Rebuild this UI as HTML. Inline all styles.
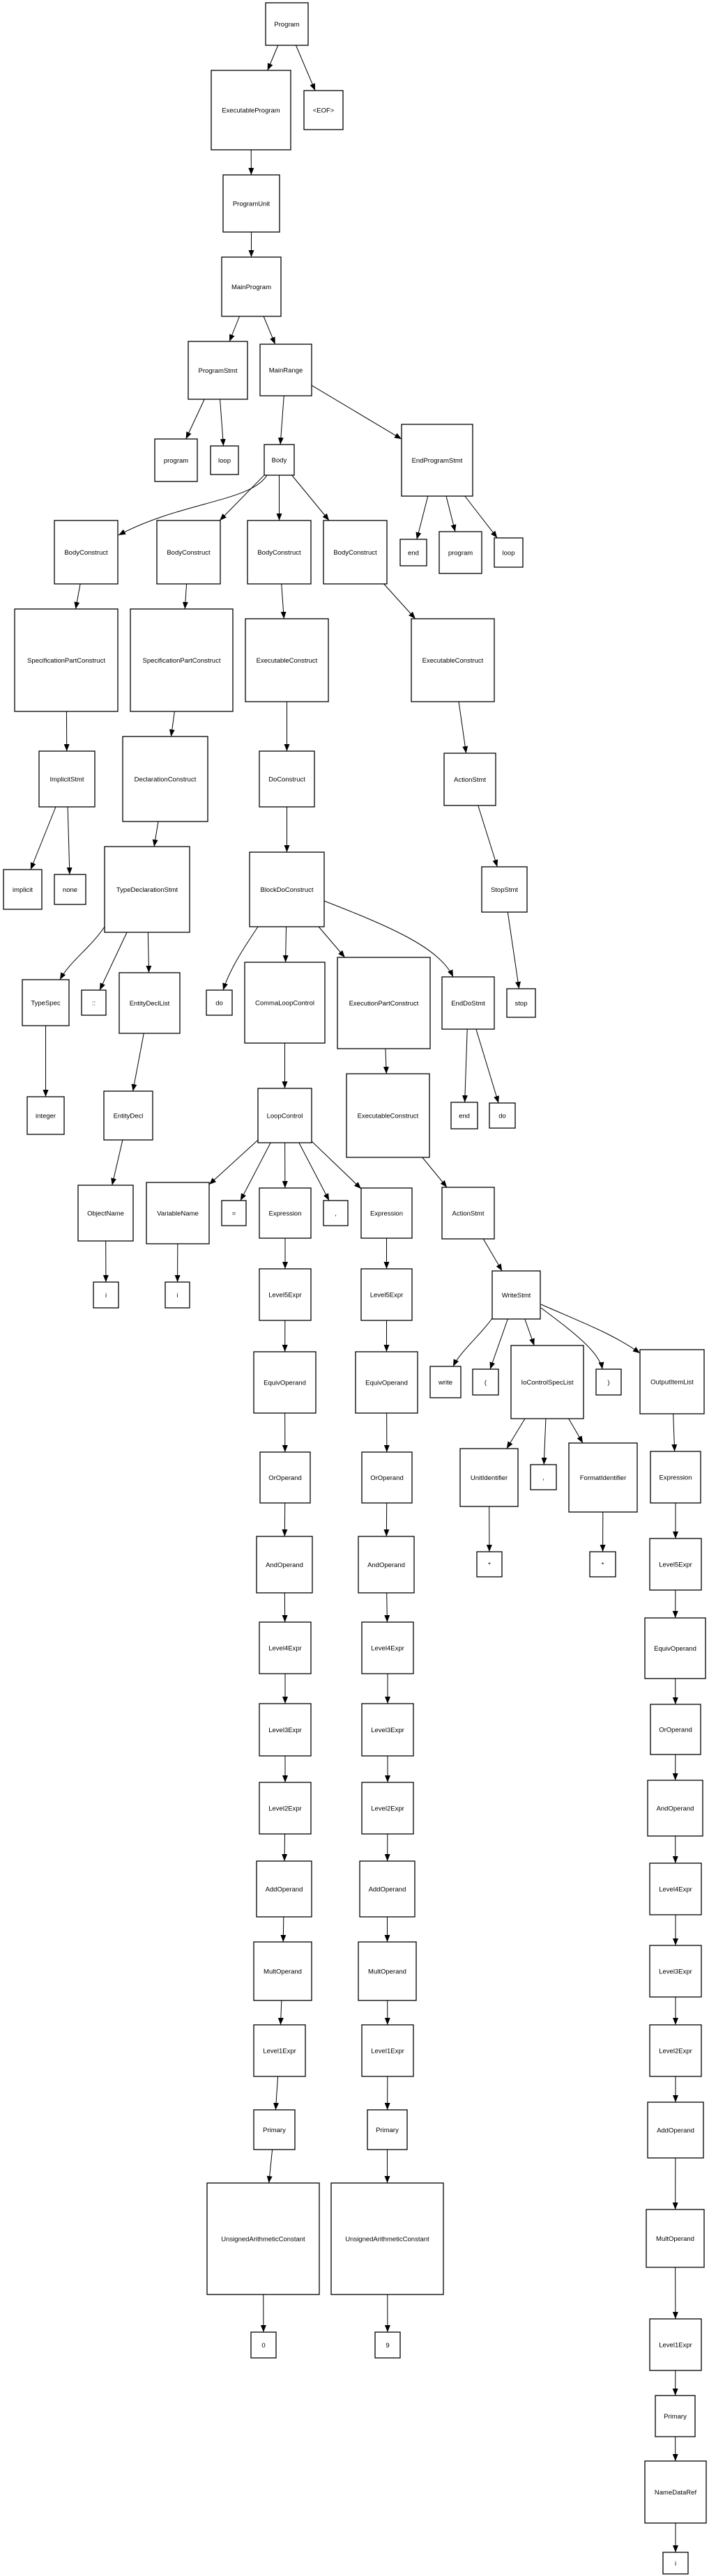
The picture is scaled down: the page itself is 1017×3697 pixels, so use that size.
<!DOCTYPE html>
<html><head><meta charset="utf-8"><style>
html,body{margin:0;padding:0;background:#fff;}
svg{display:block;}
text{font-family:"Liberation Sans",Arial,sans-serif;font-size:9.5px;fill:#000;}
</style></head><body>
<svg id="s" width="1017" height="3697" viewBox="0 0 1017 3697" xmlns="http://www.w3.org/2000/svg">
<defs><marker id="a" markerWidth="10" markerHeight="8" refX="10" refY="4" orient="auto" markerUnits="userSpaceOnUse"><path d="M0,0 L10,4 L0,8 z" fill="#000"/></marker></defs>
<g id="e" stroke="#000" stroke-width="1" fill="none">
<path d="M383,682 C360,720 260,720 170,768" marker-end="url(#a)"/>
<path d="M150,1330 C130,1360 100,1380 86,1406" marker-end="url(#a)"/>
<path d="M370,1330 C350,1360 330,1390 320,1421" marker-end="url(#a)"/>
<path d="M465,1293 C560,1330 630,1360 650,1402" marker-end="url(#a)"/>
<path d="M706,1892 C690,1915 660,1940 650,1961" marker-end="url(#a)"/>
<path d="M776,1877 C820,1910 860,1940 864,1965" marker-end="url(#a)"/>
<path d="M776,1872 C840,1900 880,1915 918,1942" marker-end="url(#a)"/>
</g>
<g id="n"></g>
</svg>
<script>
var N={
prog:["Program",381,4,442,65],
exe:["ExecutableProgram",303,101,417,215],
eof:["<EOF>",436,130,492,186],
pu:["ProgramUnit",320,251,401,333],
mp:["MainProgram",318,369,403,454],
ps:["ProgramStmt",270,490,355,573],
mr:["MainRange",373,494,447,568],
kprog:["program",222,630,283,691],
kloop:["loop",302,640,342,681],
body:["Body",379,638,422,682],
eps:["EndProgramStmt",576,609,678,712],
bc1:["BodyConstruct",78,747,169,838],
bc2:["BodyConstruct",225,747,316,838],
bc3:["BodyConstruct",355,747,446,838],
bc4:["BodyConstruct",464,747,555,838],
kend:["end",574,774,612,812],
kprog2:["program",630,763,691,823],
kloop2:["loop",709,772,750,814],
sp1:["SpecificationPartConstruct",21,874,169,1021],
sp2:["SpecificationPartConstruct",187,874,334,1021],
ec1:["ExecutableConstruct",352,888,471,1007],
ec2:["ExecutableConstruct",590,888,709,1007],
imp:["ImplicitStmt",56,1078,136,1158],
dc:["DeclarationConstruct",176,1057,298,1179],
doc:["DoConstruct",372,1078,451,1158],
as1:["ActionStmt",637,1081,711,1156],
kimp:["implicit",5,1248,60,1305],
knone:["none",78,1255,123,1298],
tds:["TypeDeclarationStmt",150,1215,272,1338],
bdc:["BlockDoConstruct",358,1223,465,1330],
ss:["StopStmt",691,1244,756,1309],
ts:["TypeSpec",32,1406,99,1472],
kcc:["::",117,1421,152,1457],
edl:["EntityDeclList",171,1396,258,1483],
kdo:["do",296,1421,333,1457],
clc:["CommaLoopControl",351,1381,466,1497],
epc:["ExecutionPartConstruct",484,1374,617,1505],
eds:["EndDoStmt",634,1402,709,1477],
kstop:["stop",727,1419,768,1460],
kint:["integer",39,1574,92,1628],
ed:["EntityDecl",149,1566,219,1636],
lc:["LoopControl",370,1562,447,1640],
ec3:["ExecutableConstruct",497,1541,616,1661],
kend2:["end",647,1582,685,1620],
kdo2:["do",702,1583,739,1619],
on:["ObjectName",112,1701,191,1781],
vn:["VariableName",210,1697,300,1785],
keq:["=",318,1723,353,1759],
x1:["Expression",372,1705,446,1777],
kcm:[",",464,1723,499,1759],
x2:["Expression",518,1705,591,1777],
as2:["ActionStmt",634,1704,709,1778],
i1:["i",134,1840,170,1877],
i2:["i",237,1840,272,1877],
l5a:["Level5Expr",372,1821,446,1895],
l5b:["Level5Expr",518,1821,591,1895],
ws:["WriteStmt",706,1824,775,1893],
eqa:["EquivOperand",364,1940,453,2028],
eqb:["EquivOperand",510,1940,599,2028],
kw:["write",617,1961,661,2006],
klp:["(",678,1965,715,2002],
io:["IoControlSpecList",733,1931,837,2036],
krp:[")",855,1965,891,2002],
oil:["OutputItemList",918,1937,1010,2029],
ora:["OrOperand",373,2084,445,2157],
orb:["OrOperand",519,2084,591,2157],
ui:["UnitIdentifier",660,2079,743,2162],
kcm2:[",",761,2102,798,2138],
fi:["FormatIdentifier",816,2071,914,2170],
x3:["Expression",933,2083,1005,2157],
ana:["AndOperand",368,2205,448,2286],
anb:["AndOperand",514,2205,594,2286],
st1:["*",684,2227,720,2263],
st2:["*",846,2227,883,2263],
l5c:["Level5Expr",932,2208,1006,2282],
l4a:["Level4Expr",372,2328,446,2402],
l4b:["Level4Expr",519,2328,593,2402],
eqc:["EquivOperand",925,2322,1012,2409],
l3a:["Level3Expr",372,2445,446,2520],
l3b:["Level3Expr",519,2445,593,2520],
orc:["OrOperand",933,2446,1005,2518],
l2a:["Level2Expr",372,2558,446,2632],
l2b:["Level2Expr",519,2558,593,2632],
anc:["AndOperand",929,2555,1008,2635],
ada:["AddOperand",368,2671,447,2751],
adb:["AddOperand",516,2671,595,2751],
l4c:["Level4Expr",932,2674,1006,2748],
mua:["MultOperand",364,2787,447,2871],
mub:["MultOperand",514,2787,597,2871],
l3c:["Level3Expr",932,2792,1006,2866],
l1a:["Level1Expr",364,2906,438,2980],
l1b:["Level1Expr",519,2906,593,2980],
l2c:["Level2Expr",932,2906,1006,2980],
pra:["Primary",364,3028,423,3085],
prb:["Primary",527,3028,584,3085],
adc:["AddOperand",929,3017,1009,3097],
uaa:["UnsignedArithmeticConstant",297,3133,458,3293],
uab:["UnsignedArithmeticConstant",475,3133,636,3293],
muc:["MultOperand",927,3171,1010,3254],
k0:["0",360,3347,396,3384],
k9:["9",538,3347,574,3384],
l1c:["Level1Expr",932,3328,1006,3402],
prc:["Primary",940,3438,997,3497],
ndr:["NameDataRef",925,3532,1013,3621],
i3:["i",951,3663,987,3694]
};
var E="prog-exe prog-eof exe-pu pu-mp mp-ps mp-mr ps-kprog ps-kloop mr-body mr-eps body-bc2 body-bc3 body-bc4 eps-kend eps-kprog2 eps-kloop2 bc1-sp1 bc2-sp2 bc3-ec1 bc4-ec2 sp1-imp sp2-dc ec1-doc ec2-as1 imp-kimp imp-knone dc-tds doc-bdc as1-ss tds-kcc tds-edl bdc-clc bdc-epc ss-kstop ts-kint edl-ed clc-lc epc-ec3 eds-kend2 eds-kdo2 ed-on lc-vn lc-keq lc-x1 lc-kcm lc-x2 ec3-as2 on-i1 vn-i2 x1-l5a x2-l5b as2-ws l5a-eqa l5b-eqb ws-klp ws-io eqa-ora eqb-orb io-ui io-kcm2 io-fi oil-x3 ora-ana orb-anb ui-st1 fi-st2 x3-l5c ana-l4a anb-l4b l5c-eqc l4a-l3a l4b-l3b eqc-orc l3a-l2a l3b-l2b orc-anc l2a-ada l2b-adb anc-l4c ada-mua adb-mub l4c-l3c mua-l1a mub-l1b l3c-l2c l1a-pra l1b-prb l2c-adc pra-uaa prb-uab adc-muc uaa-k0 uab-k9 muc-l1c l1c-prc prc-ndr ndr-i3".split(" ");
var NS="http://www.w3.org/2000/svg";
var eg=document.getElementById("e"),ng=document.getElementById("n");
function clip(r,cx,cy,dx,dy){
 var t=1e9,hw=(r[3]-r[1])/2,hh=(r[4]-r[2])/2;
 if(dx)t=Math.min(t,hw/Math.abs(dx)); if(dy)t=Math.min(t,hh/Math.abs(dy));
 return [cx+dx*t,cy+dy*t];
}
E.forEach(function(s){
 var p=s.split("-"),a=N[p[0]],b=N[p[1]];
 var ax=(a[1]+a[3])/2,ay=(a[2]+a[4])/2,bx=(b[1]+b[3])/2,by=(b[2]+b[4])/2;
 var dx=bx-ax,dy=by-ay;
 var s1=clip(a,ax,ay,dx,dy),s2=clip(b,bx,by,-dx,-dy);
 var l=document.createElementNS(NS,"line");
 l.setAttribute("x1",s1[0]);l.setAttribute("y1",s1[1]);l.setAttribute("x2",s2[0]);l.setAttribute("y2",s2[1]);
 l.setAttribute("marker-end","url(#a)");eg.appendChild(l);
});
for(var k in N){var n=N[k];
 var r=document.createElementNS(NS,"rect");
 r.setAttribute("x",n[1]);r.setAttribute("y",n[2]);r.setAttribute("width",n[3]-n[1]);r.setAttribute("height",n[4]-n[2]);
 r.setAttribute("fill","#fff");r.setAttribute("stroke","#000");r.setAttribute("stroke-width","1.3");ng.appendChild(r);
 var t=document.createElementNS(NS,"text");
 t.setAttribute("x",(n[1]+n[3])/2);t.setAttribute("y",(n[2]+n[4])/2+3.5);t.setAttribute("text-anchor","middle");
 t.textContent=n[0];ng.appendChild(t);
}
</script>
</body></html>
